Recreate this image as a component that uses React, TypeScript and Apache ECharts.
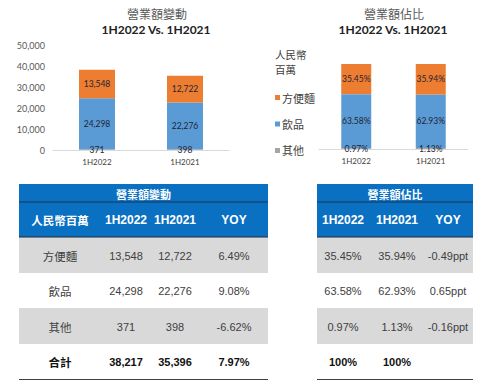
import React, { useEffect, useRef } from "react";
import * as echarts from "echarts";

const categories = ["1H2022", "1H2021"];
const seriesNames = ["方便麵", "飲品", "其他"];
const noodles = [13548, 12722];
const beverages = [24298, 22276];
const others = [371, 398];
const noodlesShare = [35.45, 35.94];
const beveragesShare = [63.58, 62.93];
const othersShare = [0.97, 1.13];
const yTicks = [0, 10000, 20000, 30000, 40000, 50000];

const tableRows = ["方便麵", "飲品", "其他"];
const salesYoy = ["6.49%", "9.08%", "-6.62%"];
const shareYoy = ["-0.49ppt", "0.65ppt", "-0.16ppt"];
const totals = ["38,217", "35,396", "7.97%"];
const shareTotals = ["100%", "100%", ""];

const COLORS = ["#ED7D31", "#5B9BD5", "#A5A5A5"];
const LAT = "Lato, 'Noto Sans CJK TC', sans-serif";
const CJK = "'Noto Sans CJK TC', sans-serif";
const ARIAL = "'Liberation Sans', Arial, 'Noto Sans CJK TC', sans-serif";

const fmt = (v: number) => v.toLocaleString("en-US");
const pct = (v: number) => v.toFixed(2) + "%";

export default function App() {
  const ref = useRef<HTMLDivElement>(null);
  useEffect(() => {
    document.body.style.margin = "0";
    const chart = echarts.init(ref.current!, undefined, { renderer: "svg" });

    const graphics: any[] = [];
    const txt = (
      text: string,
      x: number,
      y: number,
      size: number,
      fill: string,
      weight: string = "normal",
      family: string = ARIAL,
      align: string = "center",
      lineHeight?: number
    ) => {
      graphics.push({
        type: "text",
        silent: true,
        style: {
          text,
          x,
          y,
          fontSize: size,
          fontWeight: weight,
          fontFamily: family,
          fill,
          textAlign: align,
          verticalAlign: "middle",
          lineHeight,
        },
      });
    };
    const rect = (x: number, y: number, w: number, h: number, fill: string) => {
      graphics.push({ type: "rect", silent: true, shape: { x, y, width: w, height: h }, style: { fill } });
    };
    const line = (x1: number, x2: number, y: number, stroke: string, lw = 1) => {
      graphics.push({ type: "line", silent: true, shape: { x1, y1: y, x2, y2: y }, style: { stroke, lineWidth: lw } });
    };

    // Table geometry
    const rowTops = [237, 273, 308, 344];
    const rowH = [36, 35, 36, 35];
    const rowMid = [256, 291, 327, 362];
    const tables = [
      {
        x1: 19,
        x2: 268,
        title: "營業額變動",
        cols: [60, 126, 175, 234],
        headers: ["人民幣百萬", "1H2022", "1H2021", "YOY"],
        body: tableRows.map((r, i) => [r, fmt([noodles, beverages, others][i][0]), fmt([noodles, beverages, others][i][1]), salesYoy[i]]),
        total: ["合計", ...totals],
        firstCjk: true,
      },
      {
        x1: 317,
        x2: 473,
        title: "營業額佔比",
        cols: [343, 397, 448],
        headers: ["1H2022", "1H2021", "YOY"],
        body: tableRows.map((r, i) => [
          pct([noodlesShare, beveragesShare, othersShare][i][0]),
          pct([noodlesShare, beveragesShare, othersShare][i][1]),
          shareYoy[i],
        ]),
        total: shareTotals,
        firstCjk: false,
      },
    ];
    tables.forEach((t) => {
      rect(t.x1, 184, t.x2 - t.x1, 53, "#0A70C2");
      rect(t.x1, rowTops[0], t.x2 - t.x1, rowH[0], "#D9D9D9");
      rect(t.x1, rowTops[2], t.x2 - t.x1, rowH[2], "#D9D9D9");
      line(t.x1, t.x2, 202, "#1F3350", 1);
      line(t.x1, t.x2, 237, "#1F2A3A", 1.2);
      line(t.x1, t.x2, 379.5, "#404040", 1);
      txt(t.title, (t.x1 + t.x2) / 2, 194, 11, "#FFFFFF", "bold", CJK);
      t.headers.forEach((h, j) => {
        const cjk = t.firstCjk && j === 0;
        txt(h, t.cols[j], 220, cjk ? 11.5 : 12, "#FFFFFF", "bold", cjk ? CJK : ARIAL);
      });
      t.body.forEach((row, i) => {
        row.forEach((v, j) => {
          const cjk = t.firstCjk && j === 0;
          txt(v, t.cols[j], rowMid[i], cjk ? 11.5 : 11, "#404040", "normal", cjk ? CJK : ARIAL);
        });
      });
      t.total.forEach((v, j) => {
        const cjk = t.firstCjk && j === 0;
        txt(v, t.cols[j], rowMid[3], cjk ? 11.5 : 11, "#111111", "bold", cjk ? CJK : ARIAL);
      });
    });

    // Chart titles and legend caption
    txt("營業額變動", 157, 13, 12, "#595959", "normal", CJK);
    txt("1H2022 Vs. 1H2021", 156, 29, 12, "#222222", "bold", LAT);
    txt("營業額佔比", 394, 13, 12, "#595959", "normal", CJK);
    txt("1H2022 Vs. 1H2021", 393, 29, 12, "#222222", "bold", LAT);
    txt("人民幣", 275, 54.5, 10.5, "#404040", "normal", CJK, "left");
    txt("百萬", 275, 69.5, 10.5, "#404040", "normal", CJK, "left");

    const labelStyle = (formatter: any, size: number) => ({
      show: true,
      position: "inside",
      color: "#1E2433",
      fontSize: size,
      fontFamily: LAT,
      formatter,
    });

    const absData = [others, beverages, noodles];
    const shareData = [othersShare, beveragesShare, noodlesShare];
    const stackNames = ["其他", "飲品", "方便麵"];
    const stackColors = ["#A5A5A5", "#5B9BD5", "#ED7D31"];

    const series: any[] = [];
    stackNames.forEach((n, i) => {
      series.push({
        name: n,
        type: "bar",
        stack: "abs",
        xAxisIndex: 0,
        yAxisIndex: 0,
        barWidth: 36,
        data: absData[i],
        itemStyle: { color: stackColors[i] },
        label: labelStyle((p: any) => fmt(p.value), 8.5),
      });
    });
    stackNames.forEach((n, i) => {
      series.push({
        name: n,
        type: "bar",
        stack: "share",
        xAxisIndex: 1,
        yAxisIndex: 1,
        barWidth: 30,
        data: shareData[i],
        itemStyle: { color: stackColors[i] },
        label: labelStyle((p: any) => pct(p.value), 8.5),
      });
    });

    const xAxisBase = (gridIndex: number) => ({
      type: "category",
      gridIndex,
      data: categories,
      axisLine: { lineStyle: { color: "#D9D9D9", width: 1 } },
      axisTick: { show: false },
      axisLabel: { color: "#404040", fontSize: 8, fontFamily: LAT, margin: 8 },
    });

    chart.setOption({
      animation: false,
      backgroundColor: "#FFFFFF",
      grid: [
        { left: 53, top: 45, width: 176, height: 105 },
        { left: 319, top: 64, width: 149, height: 85 },
      ],
      xAxis: [xAxisBase(0), xAxisBase(1)],
      yAxis: [
        {
          type: "value",
          gridIndex: 0,
          min: yTicks[0],
          max: yTicks[yTicks.length - 1],
          interval: yTicks[1] - yTicks[0],
          splitLine: { show: false },
          axisLine: { show: false },
          axisTick: { show: false },
          axisLabel: { color: "#595959", fontSize: 9, fontFamily: LAT, margin: 8, formatter: (v: number) => fmt(v) },
        },
        { type: "value", gridIndex: 1, min: 0, max: 100, show: false },
      ],
      legend: {
        data: seriesNames,
        orient: "vertical",
        left: 270,
        top: 87,
        icon: "rect",
        itemWidth: 5,
        itemHeight: 5,
        itemGap: 15.5,
        selectedMode: false,
        textStyle: { color: "#404040", fontSize: 11, fontFamily: CJK, padding: [0, 0, 0, -3] },
      },
      color: COLORS,
      series,
      graphic: graphics,
    });
    return () => chart.dispose();
  }, []);
  return <div ref={ref} style={{ width: 493, height: 387 }} />;
}
